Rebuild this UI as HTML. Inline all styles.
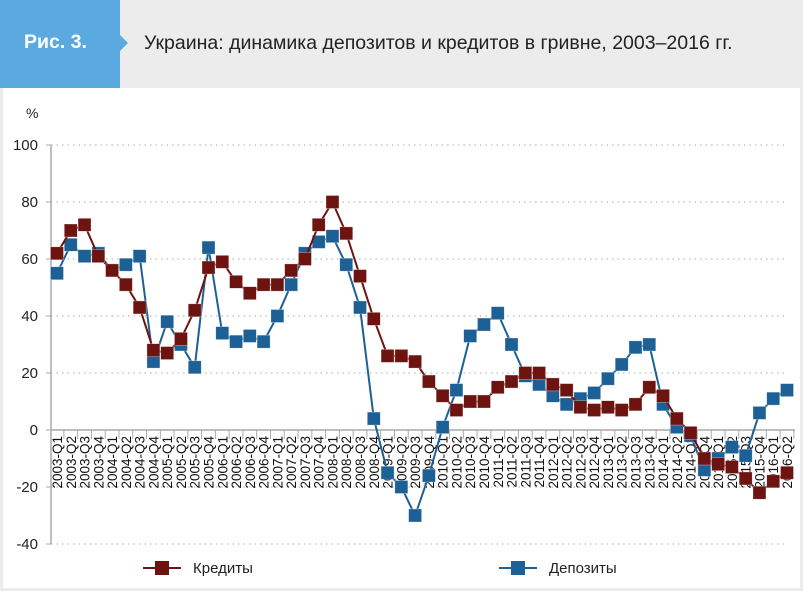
<!DOCTYPE html>
<html><head><meta charset="utf-8">
<style>
body{margin:0;width:803px;height:591px;background:#ececec;font-family:"Liberation Sans",sans-serif;overflow:hidden;position:relative}
#panel{position:absolute;left:3px;top:88px;width:797px;height:500px;background:#fff}
#tag{position:absolute;left:0;top:0;width:120px;height:88px;background:#5aa9df}
#tag span{position:absolute;left:24px;top:31px;color:#fff;font-weight:bold;font-size:19.5px}
#arrow{position:absolute;left:120px;top:35px;width:0;height:0;border-top:8px solid transparent;border-bottom:8px solid transparent;border-left:8px solid #5aa9df}
#title{position:absolute;left:144px;top:32px;font-size:19.5px;color:#222;white-space:nowrap}
svg{position:absolute;left:0;top:0}
</style></head><body>
<div id="tag"><span>Рис. 3.</span></div>
<div id="arrow"></div>
<div id="title">Украина: динамика депозитов и кредитов в гривне, 2003–2016 гг.</div>
<div id="panel"></div>
<svg id="chart" width="803" height="591"></svg>
<script>
const categories=[];
for(let y=2003;y<=2016;y++)for(let q=1;q<=4;q++){if(y===2016&&q>2)break;categories.push(y+'-Q'+q);}
const credits=[62,70,72,61,56,51,43,28,27,32,42,57,59,52,48,51,51,56,60,72,80,69,54,39,26,26,24,17,12,7,10,10,15,17,20,20,16,14,8,7,8,7,9,15,12,4,-1,-10,-12,-13,-17,-22,-18,-15];
const deposits=[55,65,61,62,56,58,61,24,38,30,22,64,34,31,33,31,40,51,62,66,68,58,43,4,-15,-20,-30,-16,1,14,33,37,41,30,19,16,12,9,11,13,18,23,29,30,9,1,-2,-14,-10,-6,-9,6,11,14];
const yTicks=[100,80,60,40,20,0,-20,-40];
const NS='http://www.w3.org/2000/svg';
const svg=document.getElementById('chart');
const x0=57,x1=787,n=categories.length;
function xs(i){return x0+(x1-x0)*i/(n-1);}
function ys(v){return 430-2.85*v;}
function mk(t,a,p){const e=document.createElementNS(NS,t);for(const k in a)e.setAttribute(k,a[k]);(p||svg).appendChild(e);return e;}
yTicks.forEach(v=>{
 const g=mk('line',{x1:51,x2:787,y1:ys(v),y2:ys(v),stroke:'#bbb','stroke-dasharray':'1.5 4','stroke-width':1.3});
 
 
 mk('line',{x1:46,x2:51,y1:ys(v),y2:ys(v),stroke:'#aaa'});
 const t=mk('text',{x:38,y:ys(v)+5,'text-anchor':'end','font-size':15,fill:'#222'});t.textContent=v;
 
 
});
const pc=mk('text',{x:26,y:118,'font-size':14,fill:'#222'});pc.textContent='%';


const ya=mk('line',{x1:51,x2:51,y1:ys(100),y2:ys(-40),stroke:'#aaa','stroke-width':1.5});


const xa=mk('line',{x1:51,x2:795,y1:ys(0),y2:ys(0),stroke:'#aaa','stroke-width':1.5});


categories.forEach((c,i)=>{
 const tx=xs(i)+(x1-x0)/(n-1)/2;
 mk('line',{x1:tx,x2:tx,y1:ys(0),y2:ys(0)+9,stroke:'#aaa'});
 const t=mk('text',{'font-size':13.5,fill:'#111','text-anchor':'end',transform:`translate(${xs(i)+5},${ys(0)+6}) rotate(-90)`});
 t.textContent=c;
 
 
});
function series(arr,col,name){
 const g=mk('g',{});
 
 
 mk('polyline',{points:arr.map((v,i)=>xs(i)+','+ys(v)).join(' '),fill:'none',stroke:col,'stroke-width':2},g);
 arr.forEach((v,i)=>{
  const r=mk('rect',{x:xs(i)-6.5,y:ys(v)-6.5,width:13,height:13,fill:col,stroke:'#fff','stroke-width':0.6,'stroke-opacity':0.5},g);
  
  
 });
}
series(deposits,'#1d6096','deposits');
series(credits,'#6e1410','credits');
function legend(x,label,col,name){
 const g=mk('g',{});
 
 
 mk('line',{x1:x,x2:x+38,y1:568,y2:568,stroke:col,'stroke-width':2},g);
 mk('rect',{x:x+12,y:561,width:14,height:14,fill:col},g);
 const t=mk('text',{x:x+50,y:573,'font-size':15,fill:'#222'},g);t.textContent=label;
}
legend(143,'Кредиты','#6e1410','credits');
legend(499,'Депозиты','#1d6096','deposits');
</script>
</body></html>
